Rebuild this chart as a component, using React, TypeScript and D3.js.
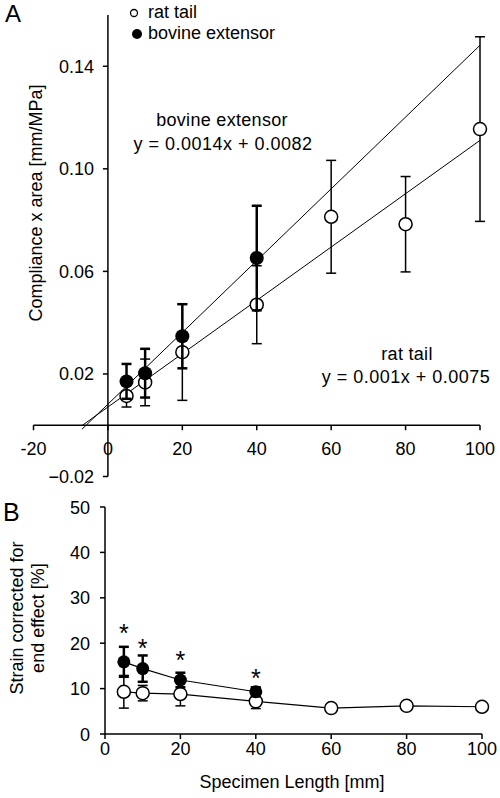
import React from 'react';
import * as d3 from 'd3';

// ---------- Panel A data ----------
const ratLengths = [5, 10, 20, 40, 60, 80, 100];
const ratCompliance = [0.0114, 0.0167, 0.0285, 0.047, 0.0813, 0.0784, 0.1155];
const ratComplianceSD = [0.0043, 0.0091, 0.0188, 0.0152, 0.022, 0.0186, 0.036];
const bovineLengths = [5, 10, 20, 40];
const bovineCompliance = [0.0171, 0.0203, 0.0347, 0.0652];
const bovineComplianceSD = [0.0068, 0.0095, 0.0125, 0.0204];
const ratSlope = 0.00104;
const ratIntercept = 0.0071;
const bovineSlope = 0.0014;
const bovineIntercept = 0.0082;
const fitRange = [-7, 100];
const aXTicks = [-20, 0, 20, 40, 60, 80, 100];
const aYTicks = [-0.02, 0.02, 0.06, 0.1, 0.14];

// ---------- Panel B data ----------
const ratStrain = [9.3, 9.0, 8.8, 7.2, 5.7, 6.2, 6.0];
const ratStrainSD = [3.6, 1.7, 2.6, 1.6, 0.9, 0.9, 0.9];
const bovineStrain = [15.9, 14.4, 11.9, 9.3];
const bovineStrainSD = [3.3, 2.9, 1.6, 1.0];
const asteriskLevel = [23.3, 20.0, 17.4, 13.4];
const bXTicks = [0, 20, 40, 60, 80, 100];
const bYTicks = [0, 10, 20, 30, 40, 50];

const FONT = '"Liberation Sans", Arial, sans-serif';

function ErrBar({ x, y0, y1, w, sw }: { x: number; y0: number; y1: number; w: number; sw: number }) {
  return (
    <g stroke="#000" strokeWidth={sw} fill="none">
      <line x1={x} x2={x} y1={y0} y2={y1} />
      <line x1={x - w} x2={x + w} y1={y0} y2={y0} />
      <line x1={x - w} x2={x + w} y1={y1} y2={y1} />
    </g>
  );
}

export default function App() {
  // Panel A scales
  const xA = d3.scaleLinear().domain([-20, 100]).range([33.5, 480]);
  const yA = d3.scaleLinear().domain([-0.02, 0.16]).range([476.5, 15]);
  // Panel B scales
  const xB = d3.scaleLinear().domain([0, 100]).range([105, 482]);
  const yB = d3.scaleLinear().domain([0, 50]).range([734, 507]);

  const fmtA = d3.format('.2f');
  const lineB = d3.line<[number, number]>().x((d) => xB(d[0])).y((d) => yB(d[1]));

  const ratFitPath = d3.line<number>().x((d) => xA(d)).y((d) => yA(ratSlope * d + ratIntercept))(fitRange) as string;
  const bovFitPath = d3.line<number>().x((d) => xA(d)).y((d) => yA(bovineSlope * d + bovineIntercept))(fitRange) as string;

  const ratBPath = lineB(ratLengths.map((l, i) => [l, ratStrain[i]] as [number, number])) as string;
  const bovBPath = lineB(bovineLengths.map((l, i) => [l, bovineStrain[i]] as [number, number])) as string;

  const x0A = xA(0);
  const y0A = yA(0);

  return (
    <svg
      width={500}
      height={798}
      style={{ position: 'absolute', left: 0, top: 0, background: '#fff' }}
      fontFamily={FONT}
      fontSize={18}
    >
      <rect width={500} height={798} fill="#fff" />
      {/* ===== Panel A ===== */}
      <text x={5} y={22} fontSize={24}>A</text>
      {/* axes */}
      <line x1={x0A} x2={x0A} y1={yA(0.16)} y2={yA(-0.02)} stroke="#000" strokeWidth={1.5} />
      <line x1={xA(-20)} x2={xA(100)} y1={y0A} y2={y0A} stroke="#000" strokeWidth={1.5} />
      {aYTicks.map((t) => (
        <g key={'ay' + t}>
          <line x1={x0A - 5} x2={x0A} y1={yA(t)} y2={yA(t)} stroke="#000" strokeWidth={1.5} />
          <text x={94} y={yA(t) + 6.5} textAnchor="end">{fmtA(t)}</text>
        </g>
      ))}
      {aXTicks.map((t) => (
        <g key={'ax' + t}>
          <line x1={xA(t)} x2={xA(t)} y1={y0A} y2={y0A + 5} stroke="#000" strokeWidth={1.5} />
          <text x={xA(t)} y={455} textAnchor="middle">{t}</text>
        </g>
      ))}
      <text transform={`translate(42,203) rotate(-90)`} textAnchor="middle">Compliance x area [mm/MPa]</text>

      {/* fit lines */}
      <path d={bovFitPath} stroke="#000" strokeWidth={1} fill="none" />
      <path d={ratFitPath} stroke="#000" strokeWidth={1} fill="none" />

      {/* rat tail */}
      {ratLengths.map((l, i) => (
        <ErrBar key={'rae' + l} x={xA(l)} y0={yA(ratCompliance[i] + ratComplianceSD[i])} y1={yA(ratCompliance[i] - ratComplianceSD[i])} w={5} sw={1.5} />
      ))}
      {ratLengths.map((l, i) => (
        <circle key={'ram' + l} cx={xA(l)} cy={yA(ratCompliance[i])} r={6.5} fill="#fff" stroke="#000" strokeWidth={1.5} />
      ))}
      {/* bovine */}
      {bovineLengths.map((l, i) => (
        <ErrBar key={'bae' + l} x={xA(l)} y0={yA(bovineCompliance[i] + bovineComplianceSD[i])} y1={yA(bovineCompliance[i] - bovineComplianceSD[i])} w={5} sw={2.5} />
      ))}
      {bovineLengths.map((l, i) => (
        <circle key={'bam' + l} cx={xA(l)} cy={yA(bovineCompliance[i])} r={7} fill="#000" />
      ))}

      {/* legend */}
      <circle cx={134} cy={13} r={3.5} fill="#fff" stroke="#000" strokeWidth={1.3} />
      <text x={148} y={18}>rat tail</text>
      <circle cx={137} cy={34} r={5} fill="#000" />
      <text x={148} y={39}>bovine extensor</text>

      {/* annotations */}
      <text x={222} y={126} textAnchor="middle" letterSpacing={0.3}>bovine extensor</text>
      <text x={223} y={150} textAnchor="middle" letterSpacing={0.5}>y = 0.0014x + 0.0082</text>
      <text x={407} y={360} textAnchor="middle" letterSpacing={0.3}>rat tail</text>
      <text x={406} y={383} textAnchor="middle" letterSpacing={0.5}>y = 0.001x + 0.0075</text>

      {/* ===== Panel B ===== */}
      <text x={3} y={521} fontSize={25}>B</text>
      <line x1={xB(0)} x2={xB(0)} y1={yB(50)} y2={yB(0)} stroke="#000" strokeWidth={1.5} />
      <line x1={xB(0)} x2={xB(100)} y1={yB(0)} y2={yB(0)} stroke="#000" strokeWidth={1.5} />
      {bYTicks.map((t) => (
        <g key={'by' + t}>
          <line x1={xB(0) - 5} x2={xB(0)} y1={yB(t)} y2={yB(t)} stroke="#000" strokeWidth={1.5} />
          <text x={90} y={yB(t) + 6.5} textAnchor="end">{t}</text>
        </g>
      ))}
      {bXTicks.map((t) => (
        <g key={'bx' + t}>
          <line x1={xB(t)} x2={xB(t)} y1={yB(0)} y2={yB(0) + 5} stroke="#000" strokeWidth={1.5} />
          <text x={xB(t)} y={755} textAnchor="middle">{t}</text>
        </g>
      ))}
      <text transform={`translate(23,618) rotate(-90)`} textAnchor="middle">Strain corrected for</text>
      <text transform={`translate(44,618) rotate(-90)`} textAnchor="middle">end effect [%]</text>
      <text x={292} y={788} textAnchor="middle">Specimen Length [mm]</text>

      <path d={ratBPath} stroke="#000" strokeWidth={1.2} fill="none" />
      <path d={bovBPath} stroke="#000" strokeWidth={1.2} fill="none" />
      {ratLengths.map((l, i) => (
        <ErrBar key={'rbe' + l} x={xB(l)} y0={yB(ratStrain[i] + ratStrainSD[i])} y1={yB(ratStrain[i] - ratStrainSD[i])} w={5} sw={1.5} />
      ))}
      {ratLengths.map((l, i) => (
        <circle key={'rbm' + l} cx={xB(l)} cy={yB(ratStrain[i])} r={6.5} fill="#fff" stroke="#000" strokeWidth={1.5} />
      ))}
      {bovineLengths.map((l, i) => (
        <ErrBar key={'bbe' + l} x={xB(l)} y0={yB(bovineStrain[i] + bovineStrainSD[i])} y1={yB(bovineStrain[i] - bovineStrainSD[i])} w={5} sw={2.5} />
      ))}
      {bovineLengths.map((l, i) => (
        <circle key={'bbm' + l} cx={xB(l)} cy={yB(bovineStrain[i])} r={6.5} fill="#000" />
      ))}
      {bovineLengths.map((l, i) => (
        <text key={'ast' + l} x={xB(l)} y={yB(asteriskLevel[i]) + 14} textAnchor="middle" fontSize={25}>*</text>
      ))}
    </svg>
  );
}
